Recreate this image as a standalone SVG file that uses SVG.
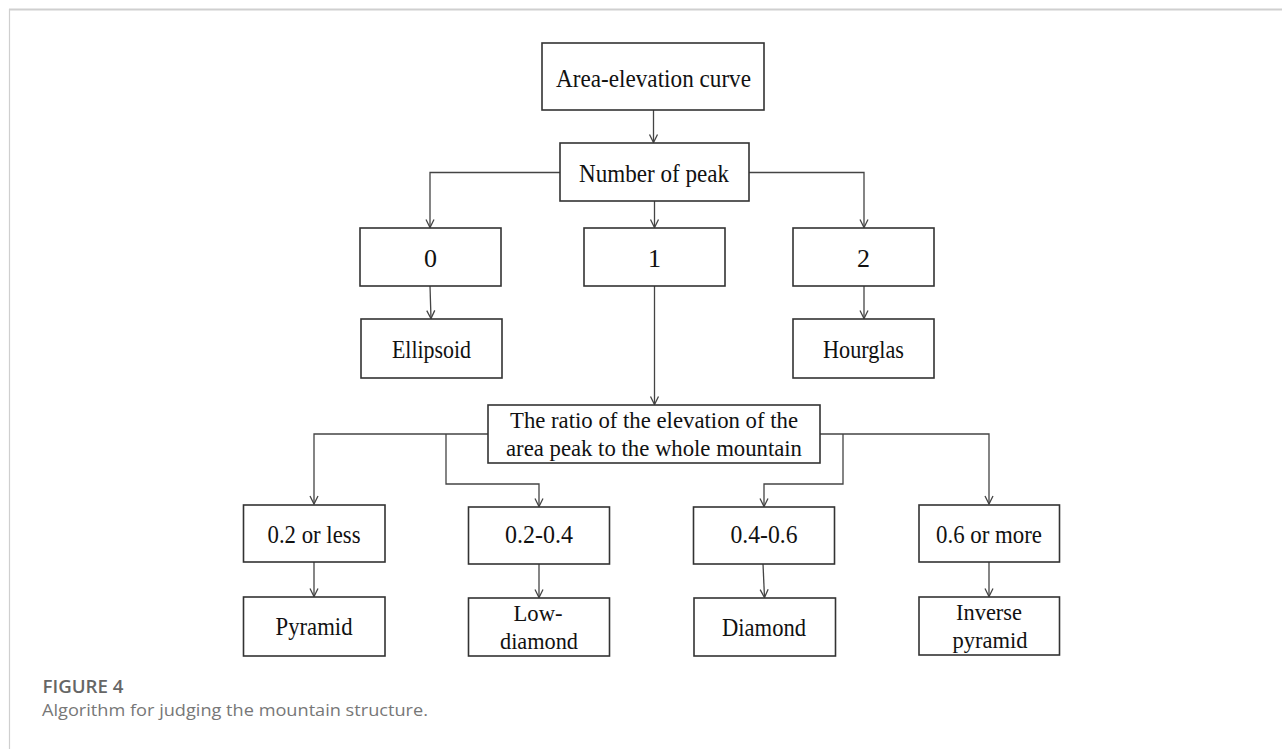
<svg xmlns="http://www.w3.org/2000/svg" width="1282" height="749" viewBox="0 0 1282 749">
<defs>
<style>
.box{fill:#fff;stroke:#333;stroke-width:1.6}
.t{font-family:"Liberation Serif","Times New Roman",serif;font-size:26px;fill:#111;text-anchor:middle}
.t2{font-size:24px}
.c{fill:none;stroke:#444;stroke-width:1.3}
.frame{stroke:#cfcfcf;fill:none}
.cap1{font-family:"Open Sans","Noto Sans",sans-serif;font-size:18px;font-weight:600;fill:#666}
.cap2{font-family:"Open Sans","Noto Sans",sans-serif;font-size:17px;fill:#777}
</style>
<marker id="arr" markerUnits="userSpaceOnUse" markerWidth="12" markerHeight="12" viewBox="-10 -6 12 12" refX="0" refY="0" orient="auto">
<path d="M-8,-4 L0,0 L-8,4" fill="none" stroke="#444" stroke-width="1.3"/>
</marker>
</defs>
<rect width="1282" height="749" fill="#fff"/>
<line class="frame" x1="9" y1="9.5" x2="1282" y2="9.5" stroke-width="2"/>
<line class="frame" x1="9.5" y1="9" x2="9.5" y2="749" stroke-width="1.2"/>

<g id="connectors">
<path class="c" d="M653.5,110 V142.5" marker-end="url(#arr)"/>
<path class="c" d="M560,172.5 H430 V227.5" marker-end="url(#arr)"/>
<path class="c" d="M654.5,201 V227.5" marker-end="url(#arr)"/>
<path class="c" d="M749,172.5 H864 V227.5" marker-end="url(#arr)"/>
<path class="c" d="M430,286 L431,318.5" marker-end="url(#arr)"/>
<path class="c" d="M864,286 V318.5" marker-end="url(#arr)"/>
<path class="c" d="M654.5,286 V404.5" marker-end="url(#arr)"/>
<path class="c" d="M488,434 H314 V504" marker-end="url(#arr)"/>
<path class="c" d="M446,434 V484 H539 V506.5" marker-end="url(#arr)"/>
<path class="c" d="M820,434 H989 V504" marker-end="url(#arr)"/>
<path class="c" d="M843,434 V484 H764 V506.5" marker-end="url(#arr)"/>
<path class="c" d="M314,562 V596.5" marker-end="url(#arr)"/>
<path class="c" d="M539,564 V597.5" marker-end="url(#arr)"/>
<path class="c" d="M763,564 L764.5,597.5" marker-end="url(#arr)"/>
<path class="c" d="M989,562 V596.5" marker-end="url(#arr)"/>
</g>

<g id="n-area"><rect class="box" x="542" y="43" width="222" height="67"/><text class="t" x="653.5" y="86.5" textLength="195" lengthAdjust="spacingAndGlyphs">Area-elevation curve</text></g>
<g id="n-peak"><rect class="box" x="560" y="143" width="189" height="58"/><text class="t" x="654" y="181.5" textLength="150" lengthAdjust="spacingAndGlyphs">Number of peak</text></g>
<g id="n-0"><rect class="box" x="360" y="228" width="141" height="58"/><text class="t" x="430.5" y="266.5">0</text></g>
<g id="n-1"><rect class="box" x="584" y="228" width="141" height="58"/><text class="t" x="654.5" y="266.5">1</text></g>
<g id="n-2"><rect class="box" x="793" y="228" width="141" height="58"/><text class="t" x="863.5" y="266.5">2</text></g>
<g id="n-ellipsoid"><rect class="box" x="361" y="319" width="141" height="59"/><text class="t" x="431.5" y="357.5" textLength="79" lengthAdjust="spacingAndGlyphs">Ellipsoid</text></g>
<g id="n-hourglas"><rect class="box" x="793" y="319" width="141" height="59"/><text class="t" x="863.5" y="357.5" textLength="81" lengthAdjust="spacingAndGlyphs">Hourglas</text></g>
<g id="n-ratio"><rect class="box" x="488" y="405" width="332" height="58"/><text class="t t2" x="654" y="427.5" textLength="288" lengthAdjust="spacingAndGlyphs">The ratio of the elevation of the</text><text class="t t2" x="654" y="455.5" textLength="296" lengthAdjust="spacingAndGlyphs">area peak to the whole mountain</text></g>
<g id="n-r1"><rect class="box" x="243.5" y="505" width="141.5" height="57"/><text class="t" x="314" y="542.5" textLength="93" lengthAdjust="spacingAndGlyphs">0.2 or less</text></g>
<g id="n-r2"><rect class="box" x="468.5" y="507" width="141" height="57"/><text class="t" x="539" y="543" textLength="68" lengthAdjust="spacingAndGlyphs">0.2-0.4</text></g>
<g id="n-r3"><rect class="box" x="693.5" y="507" width="141" height="57"/><text class="t" x="764" y="543" textLength="67" lengthAdjust="spacingAndGlyphs">0.4-0.6</text></g>
<g id="n-r4"><rect class="box" x="919" y="505" width="140.5" height="57"/><text class="t" x="989" y="542.5" textLength="106" lengthAdjust="spacingAndGlyphs">0.6 or more</text></g>
<g id="n-pyramid"><rect class="box" x="243.5" y="597" width="141.5" height="59"/><text class="t" x="314" y="634.5" textLength="77" lengthAdjust="spacingAndGlyphs">Pyramid</text></g>
<g id="n-lowdiamond"><rect class="box" x="468.5" y="598" width="141" height="58"/><text class="t t2" x="538" y="620.5" textLength="49" lengthAdjust="spacingAndGlyphs">Low-</text><text class="t t2" x="539" y="648.5" textLength="78" lengthAdjust="spacingAndGlyphs">diamond</text></g>
<g id="n-diamond"><rect class="box" x="694" y="598" width="141.5" height="58"/><text class="t" x="764" y="635.5" textLength="84" lengthAdjust="spacingAndGlyphs">Diamond</text></g>
<g id="n-invpyramid"><rect class="box" x="919" y="597" width="140.5" height="58"/><text class="t t2" x="989" y="620" textLength="66" lengthAdjust="spacingAndGlyphs">Inverse</text><text class="t t2" x="990" y="648" textLength="75" lengthAdjust="spacingAndGlyphs">pyramid</text></g>

<g id="caption">
<text class="cap1" x="42.5" y="693" textLength="81" lengthAdjust="spacingAndGlyphs">FIGURE 4</text>
<text class="cap2" x="42" y="716" textLength="386" lengthAdjust="spacingAndGlyphs">Algorithm for judging the mountain structure.</text>
</g>
</svg>
